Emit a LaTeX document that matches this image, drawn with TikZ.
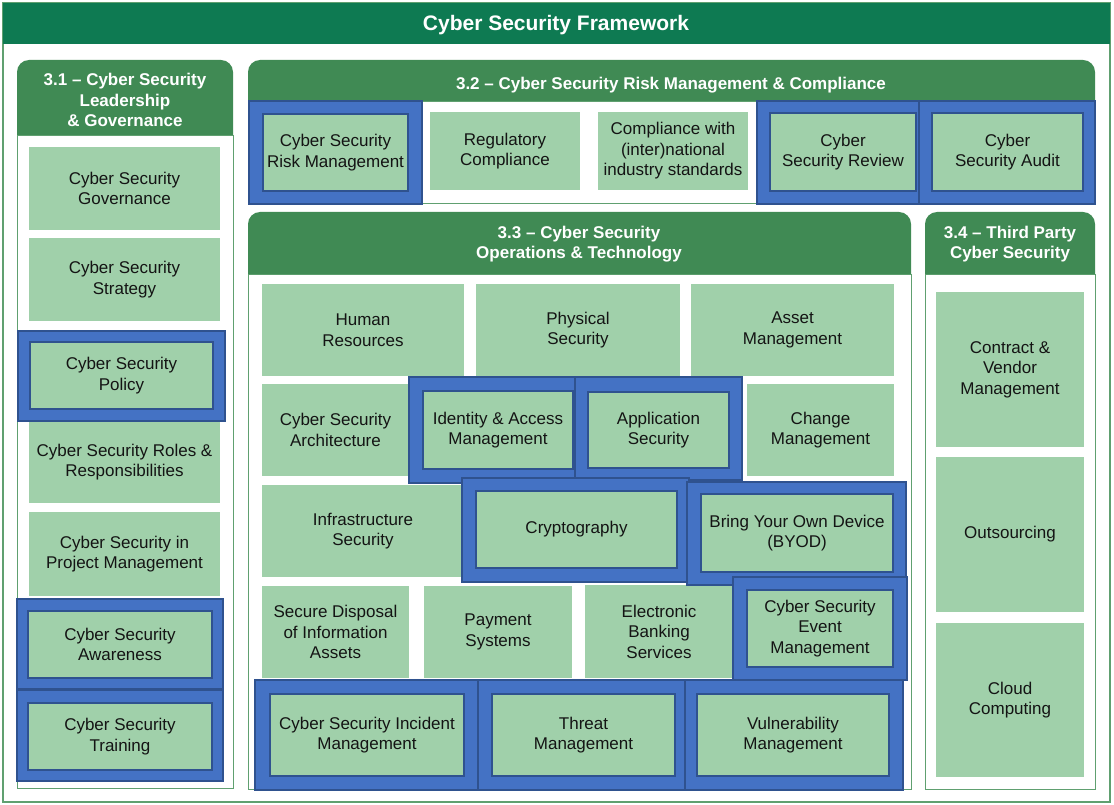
\documentclass[tikz,border=0pt]{standalone}
\usepackage{fontspec}
\setmainfont{Liberation Sans}
\definecolor{titleG}{RGB}{14,122,82}
\definecolor{hdrG}{RGB}{64,138,84}
\definecolor{lineG}{RGB}{96,160,112}
\definecolor{itemG}{RGB}{160,208,170}
\definecolor{blueF}{RGB}{68,114,196}
\definecolor{blueD}{RGB}{47,82,143}
\definecolor{txt}{RGB}{20,20,20}
\tikzset{
  gbox/.style={fill=itemG, draw=none, inner sep=0pt, align=center, text=txt,
    font=\fontsize{17}{20.5}\selectfont},
  gboxb/.style={gbox, draw=blueD, line width=1.4pt},
  bframe/.style={fill=blueF, draw=blueD, line width=1.2pt, inner sep=0pt},
  hdrtext/.style={text=white, align=center, inner sep=0pt,
    font=\fontsize{17}{20.5}\selectfont\bfseries},
  panelline/.style={draw=lineG, line width=0.9pt, fill=white},
}
\newcommand{\gitem}[7][gbox]{\node[#1, minimum width={(#5-#3)*1pt}, minimum height={(#6-#4)*1pt}] (#2) at ({(#3+#5)/2},{(#4+#6)/2}) {#7};}
\newcommand{\bfr}[5]{\node[bframe, minimum width={(#4-#2)*1pt}, minimum height={(#5-#3)*1pt}] (#1) at ({(#2+#4)/2},{(#3+#5)/2}) {};}
\newcommand{\panel}[6]{%
  \draw[panelline] (#2,#5) rectangle (#4,#6);
  \fill[hdrG] (#2,#5) -- (#2,{#3+12}) arc (180:270:12) -- ({#4-12},#3) arc (270:360:12) -- (#4,#5) -- cycle;
}
\begin{document}
\begin{tikzpicture}[x=1pt,y=-1pt]
\useasboundingbox (0,0) rectangle (1114,805);
\fill[white] (0,0) rectangle (1114,805);
% outer frame and title
\draw[lineG, line width=1.3pt] (3,3) rectangle (1110,802);
\fill[titleG] (3,3) rectangle (1110,44);
\node[text=white, inner sep=0pt, font=\fontsize{21}{25}\selectfont\bfseries] (title) at (556,25.5) {Cyber Security Framework};

% panels
\panel{p31}{17}{60}{233}{135}{788}
\panel{p32}{248}{60}{1095}{101}{203}
\panel{p33}{248}{212}{911}{274}{789}
\panel{p34}{925}{212}{1095}{274}{789}

\node[hdrtext] (h31) at (125,100) {3.1 – Cyber Security\\Leadership\\\& Governance};
\node[hdrtext] (h32) at (671,85.5) {3.2 – Cyber Security Risk Management \& Compliance};
\node[hdrtext] (h33) at (579,244) {3.3 – Cyber Security\\Operations \& Technology};
\node[hdrtext] (h34) at (1010,244) {3.4 – Third Party\\Cyber Security};

% ---- 3.1
\gitem{gov}{29}{147}{220}{230}{Cyber Security\\Governance}
\gitem{strat}{29}{238}{220}{321}{Cyber Security\\Strategy}
\gitem{roles}{29}{421}{220}{503}{Cyber Security Roles \&\\Responsibilities}
\gitem{proj}{29}{512}{220}{596}{Cyber Security in\\Project Management}
\bfr{policyF}{18}{331}{225}{421}
\gitem[gboxb]{policy}{30}{342}{213}{409}{Cyber Security\\Policy}
\bfr{awareF}{17}{599}{223}{689}
\gitem[gboxb]{aware}{28}{611}{212}{678}{Cyber Security\\Awareness}
\bfr{trainF}{17}{690}{223}{781}
\gitem[gboxb]{train}{28}{703}{212}{770}{Cyber Security\\Training}

% ---- 3.2
\gitem{regul}{430}{112}{580}{190}{Regulatory\\Compliance}
\gitem{compl}{598}{112}{748}{190}{Compliance with\\(inter)national\\industry standards}
\bfr{riskF}{249}{101}{422}{204}
\gitem[gboxb]{risk}{263}{114}{408}{191}{Cyber Security\\Risk Management}
\bfr{reviewF}{757}{101}{919}{204}
\gitem[gboxb]{review}{770}{113}{916}{191}{Cyber\\Security Review}
\bfr{auditF}{919}{101}{1095}{204}
\gitem[gboxb]{audit}{932}{113}{1083}{191}{Cyber\\Security Audit}

% ---- 3.3
\gitem{hr}{262}{284}{464}{376}{Human\\Resources}
\gitem{phys}{476}{284}{680}{376}{Physical\\Security}
\gitem{asset}{691}{284}{894}{376}{Asset\\Management}
\gitem{arch}{262}{384}{409}{476}{Cyber Security\\Architecture}
\gitem{change}{747}{384}{894}{476}{Change\\Management}
\gitem{infra}{262}{485}{464}{577}{Infrastructure\\Security}
\gitem{disp}{262}{586}{409}{678}{Secure Disposal\\of Information\\Assets}
\gitem{pay}{424}{586}{572}{678}{Payment\\Systems}
\gitem{ebank}{585}{585}{733}{678}{Electronic\\Banking\\Services}

\bfr{identF}{409}{377}{575}{483}
\gitem[gboxb]{ident}{423}{391}{573}{469}{Identity \& Access\\Management}
\bfr{appF}{575}{377}{742}{480}
\gitem[gboxb]{app}{588}{392}{729}{468}{Application\\Security}
\bfr{cryptoF}{462}{478}{689}{582}
\gitem[gboxb]{crypto}{476}{491}{677}{568}{Cryptography}
\bfr{byodF}{687}{482}{906}{585}
\gitem[gboxb]{byod}{701}{494}{893}{572}{Bring Your Own Device\\(BYOD)}
\bfr{eventF}{733}{577}{907}{680}
\gitem[gboxb]{event}{747}{590}{893}{667}{Cyber Security\\Event\\Management}
\bfr{incidF}{255}{680}{478}{790}
\gitem[gboxb]{incid}{270}{694}{464}{776}{Cyber Security Incident\\Management}
\bfr{threatF}{478}{680}{685}{790}
\gitem[gboxb]{threat}{492}{694}{675}{776}{Threat\\Management}
\bfr{vulnF}{685}{680}{903}{790}
\gitem[gboxb]{vuln}{697}{694}{889}{776}{Vulnerability\\Management}

% ---- 3.4
\gitem{contract}{936}{292}{1084}{447}{Contract \&\\Vendor\\Management}
\gitem{outs}{936}{457}{1084}{612}{Outsourcing}
\gitem{cloud}{936}{623}{1084}{777}{Cloud\\Computing}
\end{tikzpicture}
\end{document}
